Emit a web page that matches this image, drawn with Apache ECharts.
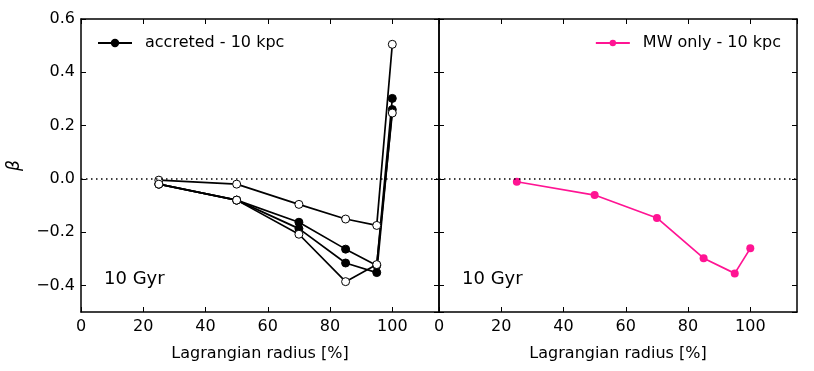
<!DOCTYPE html>
<html>
<head>
<meta charset="utf-8">
<script src="https://cdn.jsdelivr.net/npm/echarts@6/dist/echarts.min.js"></script>
<style>
  html, body { margin: 0; padding: 0; background: #fff; }
  #chart { width: 814px; height: 371px; }
</style>
</head>
<body>
<div id="chart"></div>
<script>
// Lagrangian radius [%] sampled for every curve
const radius = [25, 50, 70, 85, 95, 100];

// accreted - 10 kpc (several realisations, open and filled markers)
const accretedFilledA = [-0.02, -0.08, -0.163, -0.264, -0.325, 0.302];
const accretedFilledB = [-0.02, -0.08, -0.187, -0.316, -0.352, 0.26];
const accretedOpenA = [-0.005, -0.02, -0.096, -0.151, -0.175, 0.505];
const accretedOpenB = [-0.02, -0.08, -0.208, -0.386, -0.322, 0.247];

// MW only - 10 kpc
const mwOnly = [-0.011, -0.061, -0.147, -0.298, -0.355, -0.261];

const FONT = 'DejaVu Sans';
const PINK = '#ff1493';

const pairs = ys => radius.map((r, i) => [r, ys[i]]);
const fmtY = v => v.toFixed(1).replace('-', '\u2212');

const boxX = (grid, pos, labels) => ({
    gridIndex: grid, position: pos, type: 'value', min: 0, max: 115,
    splitLine: { show: false },
    axisLine: { show: true, onZero: false, lineStyle: { color: '#000', width: 1.5 } },
    axisTick: { show: true, inside: true, length: 5, lineStyle: { color: '#000', width: 1 } },
    axisLabel: { show: labels, color: '#000', fontFamily: FONT, fontSize: 16, margin: 7, showMaxLabel: false },
    name: labels ? 'Lagrangian radius [%]' : '',
    nameLocation: 'middle', nameGap: 34,
    nameTextStyle: { color: '#000', fontFamily: FONT, fontSize: 16 }
});

const boxY = (grid, pos, labels, name) => ({
    gridIndex: grid, position: pos, type: 'value', min: -0.5, max: 0.6,
    splitLine: { show: false },
    axisLine: { show: true, onZero: false, lineStyle: { color: '#000', width: 1.5 } },
    axisTick: { show: true, inside: true, length: 5, lineStyle: { color: '#000', width: 1 } },
    axisLabel: { show: labels, color: '#000', fontFamily: FONT, fontSize: 16, margin: 6,
        showMinLabel: false, formatter: fmtY },
    name: name || '', nameLocation: 'middle', nameGap: 58, nameRotate: 90,
    nameTextStyle: { color: '#000', fontFamily: FONT, fontSize: 17, fontStyle: 'italic' }
});

const zeroLine = {
    silent: true, symbol: 'none', label: { show: false },
    lineStyle: { color: '#000', type: [1.5, 3.5], width: 1.5 },
    data: [{ yAxis: 0 }]
};

const accretedSeries = (name, ys, filled, extra) => Object.assign({
    name: name, type: 'line', xAxisIndex: 0, yAxisIndex: 0,
    data: pairs(ys), symbol: 'circle', symbolSize: 8, showAllSymbol: true,
    lineStyle: { color: '#000', width: 1.7 },
    itemStyle: { color: filled ? '#000' : '#fff', borderColor: '#000', borderWidth: 1 },
    animation: false
}, extra || {});

const chart = echarts.init(document.getElementById('chart'));

chart.setOption({
    backgroundColor: '#fff',
    animation: false,
    grid: [
        { left: 81, top: 19, width: 358, height: 293 },
        { left: 439, top: 19, width: 358, height: 293 }
    ],
    xAxis: [boxX(0, 'bottom', true), boxX(0, 'top', false), boxX(1, 'bottom', true), boxX(1, 'top', false)],
    yAxis: [boxY(0, 'left', true, '\u03b2'), boxY(0, 'right', false), boxY(1, 'left', false), boxY(1, 'right', false)],
    legend: [
        {
            left: 92, top: 30, data: ['accreted - 10 kpc'],
            itemWidth: 34, itemHeight: 8,
            textStyle: { color: '#000', fontFamily: FONT, fontSize: 16, padding: [0, 0, 0, 8] }
        },
        {
            right: 28, top: 30, data: ['MW only - 10 kpc'],
            itemWidth: 34, itemHeight: 8,
            textStyle: { color: '#000', fontFamily: FONT, fontSize: 16, padding: [0, 0, 0, 8] }
        }
    ],
    graphic: [
        { type: 'text', left: 104, top: 270, style: { text: '10 Gyr', fontFamily: FONT, fontSize: 18, fill: '#000' } },
        { type: 'text', left: 462, top: 270, style: { text: '10 Gyr', fontFamily: FONT, fontSize: 18, fill: '#000' } }
    ],
    series: [
        accretedSeries('accreted - 10 kpc', accretedFilledA, true, { markLine: zeroLine }),
        accretedSeries('accreted B', accretedFilledB, true),
        accretedSeries('accreted C', accretedOpenA, false),
        accretedSeries('accreted D', accretedOpenB, false),
        {
            name: 'MW only - 10 kpc', type: 'line', xAxisIndex: 2, yAxisIndex: 2,
            data: pairs(mwOnly), symbol: 'circle', symbolSize: 8, showAllSymbol: true,
            lineStyle: { color: PINK, width: 1.7 },
            itemStyle: { color: PINK },
            markLine: zeroLine
        }
    ]
});
</script>
</body>
</html>
